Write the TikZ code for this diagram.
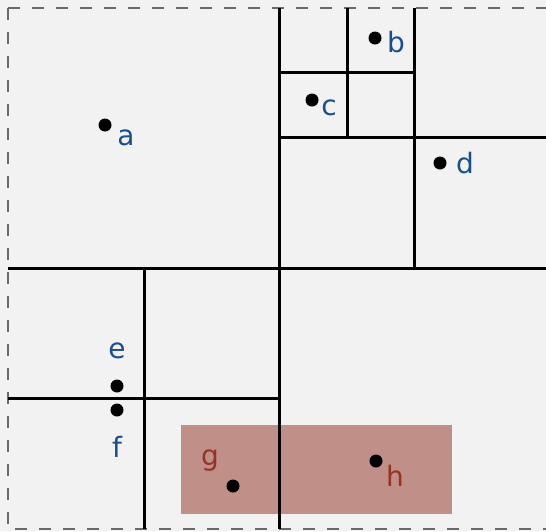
\documentclass[tikz,border=0pt]{standalone}
\usepackage{fontspec}
\setmainfont{DejaVu Sans}
\definecolor{bg}{HTML}{F2F2F2}
\definecolor{dashgray}{HTML}{6A6A6A}
\definecolor{lblblue}{HTML}{1A4F8C}
\definecolor{lblred}{HTML}{963226}
\definecolor{rectred}{HTML}{BF8F88}
\tikzset{
  divline/.style={line width=3pt, black},
  frameline/.style={line width=2.2pt, dashgray, dash pattern=on 12pt off 12pt},
  pt/.style={circle, fill=black, inner sep=0pt, minimum size=13pt},
  lblb/.style={text=lblblue, font=\fontsize{28}{28}\selectfont, anchor=base, inner sep=0pt},
  lblr/.style={text=lblred, font=\fontsize{28}{28}\selectfont, anchor=base, inner sep=0pt},
}
\begin{document}
\begin{tikzpicture}[x=1pt,y=-1pt]
\useasboundingbox (0,0) rectangle (546,531);
\fill[bg] (0,0) rectangle (546,531);
\clip (0,0) rectangle (546,531);
% query rectangle
\fill[rectred] (181,425) rectangle (452,514);
% frame
\draw[frameline] (8,8) -- (8,529) -- (570,529);
\draw[frameline] (8,8) -- (570,8);
% divisions
\draw[divline] (279,8) -- (279,529);
\draw[divline] (8,268) -- (570,268);
\draw[divline] (414,8) -- (414,268);
\draw[divline] (279,137) -- (570,137);
\draw[divline] (347,8) -- (347,137);
\draw[divline] (279,72) -- (414,72);
\draw[divline] (144,268) -- (144,529);
\draw[divline] (8,398) -- (279,398);
% points
\node[pt] (pa) at (105,125) {};
\node[pt] (pb) at (375,38) {};
\node[pt] (pc) at (312,100) {};
\node[pt] (pd) at (440,163) {};
\node[pt] (pe) at (117,386) {};
\node[pt] (pf) at (117,410) {};
\node[pt] (pg) at (233,486) {};
\node[pt] (ph) at (376,461) {};
% labels
\node[lblb] (la) at (126,145) {a};
\node[lblb] (lb) at (396,52) {b};
\node[lblb] (lc) at (329,115) {c};
\node[lblb] (ld) at (465,173) {d};
\node[lblb] (le) at (117,358) {e};
\node[lblb] (lf) at (117,457) {f};
\node[lblr] (lg) at (210,465) {g};
\node[lblr] (lh) at (395,486) {h};
\end{tikzpicture}
\end{document}
